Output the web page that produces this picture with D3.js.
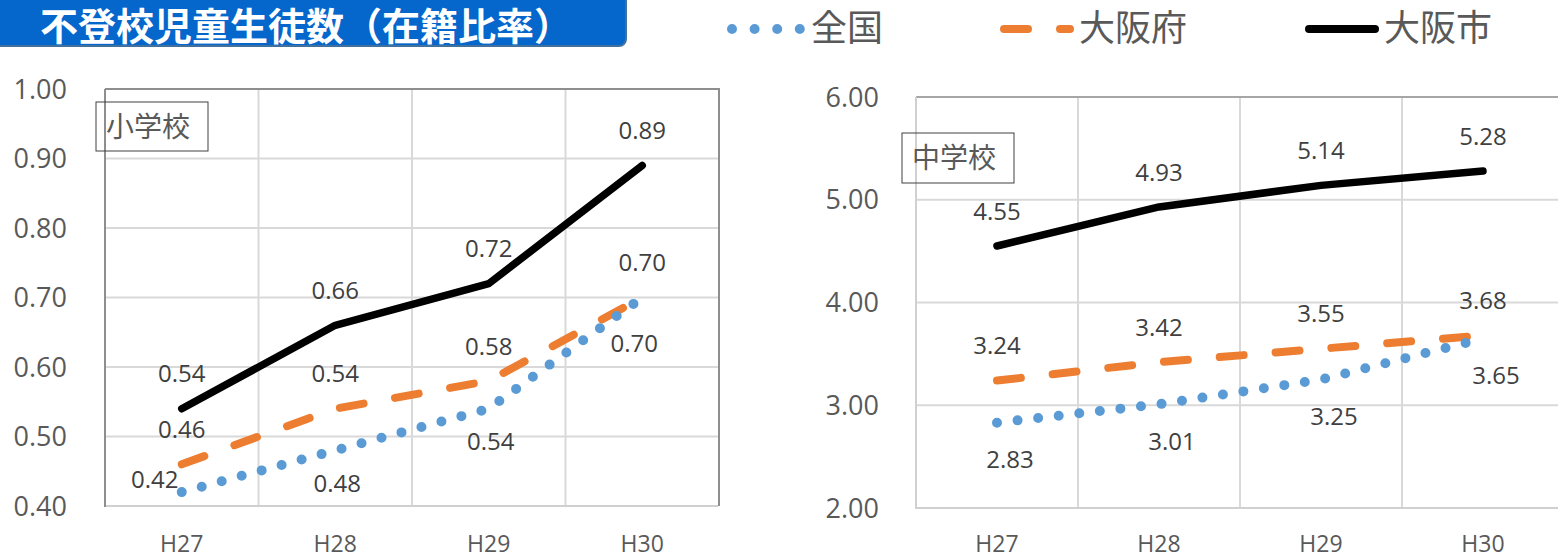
<!DOCTYPE html>
<html>
<head>
<meta charset="utf-8">
<script src="https://cdn.jsdelivr.net/npm/d3@7"></script>
<style>
  body { margin: 0; background: #fff; }
  svg { display: block; }
</style>
</head>
<body>
<svg width="1558" height="555"></svg>
<script>
// data
var years = ["H27", "H28", "H29", "H30"];
var seriesNames = ["全国", "大阪府", "大阪市"];

// 小学校
var elemZenkoku = [0.42, 0.48, 0.54, 0.70];
var elemFu = [0.46, 0.54, 0.58, 0.70];
var elemShi = [0.54, 0.66, 0.72, 0.89];
var elemTicks = [0.4, 0.5, 0.6, 0.7, 0.8, 0.9, 1.0];

// 中学校
var juniorZenkoku = [2.83, 3.01, 3.25, 3.65];
var juniorFu = [3.24, 3.42, 3.55, 3.68];
var juniorShi = [4.55, 4.93, 5.14, 5.28];
var juniorTicks = [2, 3, 4, 5, 6];

var svg = d3.select("svg");
var numFont = "'Open Sans', 'Noto Sans', sans-serif";
var jpFont = "'Noto Sans CJK JP', 'Noto Sans', sans-serif";
var fmt = d3.format(".2f");

// line styles for 全国, 大阪府, 大阪市
var styles = [
  { color: "#5B9BD5", width: 10, dash: "0 20.7" },
  { color: "#ED7D31", width: 8, dash: "24 32" },
  { color: "#000000", width: 7.5, dash: null }
];

// title
svg.append("rect")
  .attr("x", -10).attr("y", -10)
  .attr("width", 636).attr("height", 56)
  .attr("rx", 7)
  .style("fill", "#0566CC")
  .style("stroke", "#41719C")
  .style("stroke-width", 2);

svg.append("text")
  .attr("x", 40).attr("y", 26)
  .attr("dy", "0.36em")
  .style("font-family", jpFont)
  .style("font-weight", "bold")
  .style("font-size", "38px")
  .style("fill", "#fff")
  .text("不登校児童生徒数（在籍比率）");

// legend
var legendPos = [
  { x1: 732, x2: 800.5, tx: 811 },
  { x1: 1004, x2: 1070, tx: 1079 },
  { x1: 1309, x2: 1375, tx: 1384 }
];
seriesNames.forEach(function(name, i) {
  var st = styles[i];
  var lp = legendPos[i];
  var dash = i === 0 ? "0 22.6" : st.dash;
  svg.append("line")
    .attr("x1", lp.x1).attr("x2", lp.x2)
    .attr("y1", 29).attr("y2", 29)
    .style("stroke", st.color)
    .style("stroke-width", i === 2 ? 8 : st.width)
    .style("stroke-linecap", "round")
    .style("stroke-dasharray", dash);
  svg.append("text")
    .attr("x", lp.tx).attr("y", 28)
    .attr("dy", "0.36em")
    .style("font-family", jpFont)
    .style("font-size", "36px")
    .style("fill", "#595959")
    .text(name);
});

// two panels
var panels = [
  {
    name: "小学校",
    left: 105, right: 719, top: 89, bottom: 506,
    domain: [0.4, 1.0], ticks: elemTicks, tickRight: 67,
    series: [elemZenkoku, elemFu, elemShi],
    box: { x: 96, y: 102, w: 112, h: 49 },
    frame: "#8e8e8e", leftAxis: "#8e8e8e",
    below: 33, belowDx: 2,
    nudge: { "0-0": [-29, -13 - 33], "0-3": [-10, 13] }
  },
  {
    name: "中学校",
    left: 916, right: 1564, top: 97, bottom: 508,
    domain: [2, 6], ticks: juniorTicks, tickRight: 879,
    series: [juniorZenkoku, juniorFu, juniorShi],
    box: { x: 902, y: 133, w: 112, h: 50 },
    frame: "#a6a6a6", leftAxis: "#d0d0d0",
    below: 37, belowDx: 13,
    nudge: {}
  }
];

panels.forEach(function(p) {
  var g = svg.append("g");

  var x = d3.scaleBand()
    .domain(years)
    .range([p.left, p.right])
    .padding(0);

  var y = d3.scaleLinear()
    .domain(p.domain)
    .range([p.bottom, p.top]);

  // horizontal gridlines
  g.selectAll(".hgrid")
    .data(p.ticks.slice(1, -1))
    .enter().append("line")
    .attr("x1", p.left).attr("x2", p.right)
    .attr("y1", function(d) { return y(d); })
    .attr("y2", function(d) { return y(d); })
    .style("stroke", "#d9d9d9")
    .style("stroke-width", 2);

  // vertical gridlines between categories
  g.selectAll(".vgrid")
    .data(years.slice(1))
    .enter().append("line")
    .attr("x1", function(d) { return x(d); })
    .attr("x2", function(d) { return x(d); })
    .attr("y1", p.top).attr("y2", p.bottom)
    .style("stroke", "#d9d9d9")
    .style("stroke-width", 2);

  // plot frame: top + right dark, bottom light
  g.append("path")
    .attr("d", "M" + p.left + "," + y(p.domain[1]) + "H" + p.right + "V" + p.bottom)
    .style("fill", "none")
    .style("stroke", p.frame)
    .style("stroke-width", 2);
  g.append("line")
    .attr("x1", p.left).attr("x2", p.right - 1)
    .attr("y1", p.bottom).attr("y2", p.bottom)
    .style("stroke", "#d0d0d0")
    .style("stroke-width", 2);
  g.append("line")
    .attr("x1", p.left).attr("x2", p.left)
    .attr("y1", p.top).attr("y2", p.bottom + 1)
    .style("stroke", p.leftAxis)
    .style("stroke-width", 2);

  // y tick labels
  g.selectAll(".ytick")
    .data(p.ticks)
    .enter().append("text")
    .attr("x", p.tickRight)
    .attr("y", function(d) { return y(d); })
    .attr("dy", "0.36em")
    .attr("text-anchor", "end")
    .style("font-family", numFont)
    .style("font-size", "27px")
    .style("fill", "#595959")
    .text(function(d) { return fmt(d); });

  // x labels
  g.selectAll(".xtick")
    .data(years)
    .enter().append("text")
    .attr("x", function(d) { return x(d) + x.bandwidth() / 2; })
    .attr("y", 552)
    .attr("text-anchor", "middle")
    .style("font-family", numFont)
    .style("font-size", "23px")
    .style("fill", "#595959")
    .text(function(d) { return d; });

  // panel name box
  g.append("rect")
    .attr("x", p.box.x).attr("y", p.box.y)
    .attr("width", p.box.w).attr("height", p.box.h)
    .style("fill", "none")
    .style("stroke", "#404040")
    .style("stroke-width", 1);
  g.append("text")
    .attr("x", p.box.x + 10)
    .attr("y", p.box.y + p.box.h / 2)
    .attr("dy", "0.36em")
    .style("font-family", jpFont)
    .style("font-size", "28px")
    .style("fill", "#595959")
    .text(p.name);

  var line = d3.line()
    .x(function(d, i) { return x(years[i]) + x.bandwidth() / 2; })
    .y(function(d) { return y(d); });

  // draw order: 大阪府, 全国, 大阪市
  [1, 0, 2].forEach(function(si) {
    var st = styles[si];
    g.append("path")
      .datum(p.series[si])
      .attr("d", line)
      .style("fill", "none")
      .style("stroke", st.color)
      .style("stroke-width", st.width)
      .style("stroke-linecap", "round")
      .style("stroke-linejoin", "round")
      .style("stroke-dasharray", st.dash);
  });

  // data labels
  p.series.forEach(function(vals, si) {
    vals.forEach(function(v, i) {
      var dx = si === 0 ? p.belowDx : 0;
      var dy = si === 0 ? p.below : -35;
      var n = p.nudge[si + "-" + i];
      if (n) { dx += n[0]; dy += n[1]; }
      g.append("text")
        .attr("x", x(years[i]) + x.bandwidth() / 2 + dx)
        .attr("y", y(v) + dy)
        .attr("dy", "0.36em")
        .attr("text-anchor", "middle")
        .style("font-family", numFont)
        .style("font-size", "24px")
        .style("fill", "#404040")
        .text(fmt(v));
    });
  });
});
</script>
</body>
</html>
